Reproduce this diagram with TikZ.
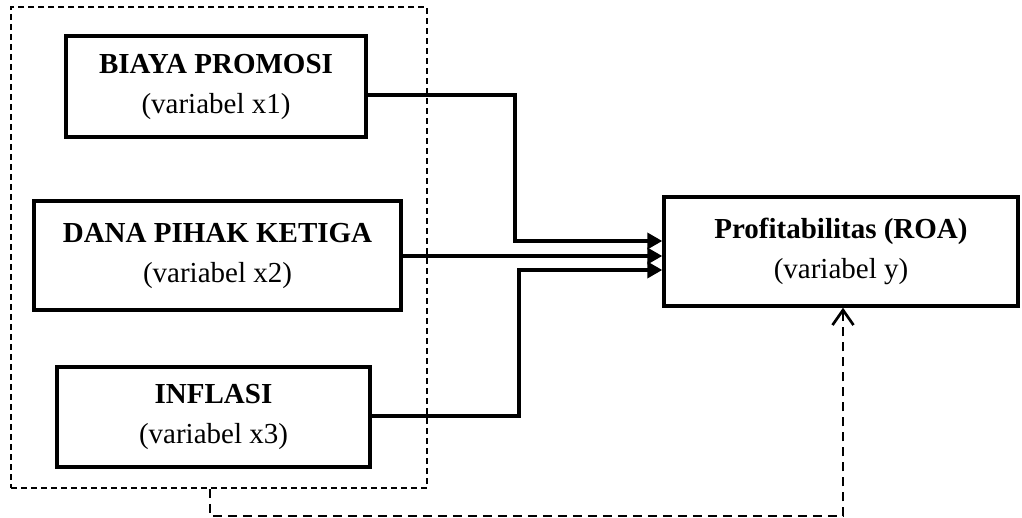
\documentclass[tikz,border=0pt]{standalone}
\usepackage{fontspec}
\setmainfont{Liberation Serif}
\usetikzlibrary{arrows.meta}
\begin{document}
\begin{tikzpicture}[x=1pt,y=-1pt,
  box/.style={draw, line width=3.4pt, inner sep=0pt, align=center, font=\fontsize{29pt}{40pt}\selectfont},
  conn/.style={line width=3.5pt, -{Triangle[length=15pt,width=16pt]}},
  grpbox/.style={draw, line width=1.5pt, dash pattern=on 6pt off 4pt, inner sep=0pt},
  route/.style={line width=2.7pt, dash pattern=on 9pt off 6pt, -{Straight Barb[length=15pt,width=21pt]}}
]
\useasboundingbox (0,0) rectangle (1022,518);
\node[grpbox, minimum width=416pt, minimum height=481pt] (grp) at (219,247.5) {};
\node[box, minimum width=300pt, minimum height=101pt] (b1) at (216,86.5) {\textbf{BIAYA PROMOSI}\\(variabel x1)};
\node[box, minimum width=367pt, minimum height=109pt] (b2) at (217.5,255.5) {\textbf{DANA PIHAK KETIGA}\\(variabel x2)};
\node[box, minimum width=313pt, minimum height=100pt] (b3) at (213.5,417) {\textbf{INFLASI}\\(variabel x3)};
\node[box, minimum width=354pt, minimum height=109pt] (roa) at (841,251.5) {\textbf{Profitabilitas (ROA)}\\(variabel y)};
\coordinate (y1) at (0,241);
\coordinate (y2) at (0,256);
\coordinate (y3) at (0,270);
\coordinate (v1) at (515,0);
\coordinate (v3) at (519,0);
\coordinate (rx) at (843,0);
\coordinate (ry) at (0,516);
\draw[conn] ([yshift=-8.5pt]b1.east) -| (v1 |- y1) -- (roa.west |- y1);
\draw[conn] (b2.east |- y2) -- (roa.west |- y2);
\draw[conn] ([yshift=1pt]b3.east) -| (v3 |- y3) -- (roa.west |- y3);
\draw[route] ([xshift=-9pt]grp.south) -- ([xshift=-9pt]grp.south |- ry) -| (roa.south -| rx);
\end{tikzpicture}
\end{document}
